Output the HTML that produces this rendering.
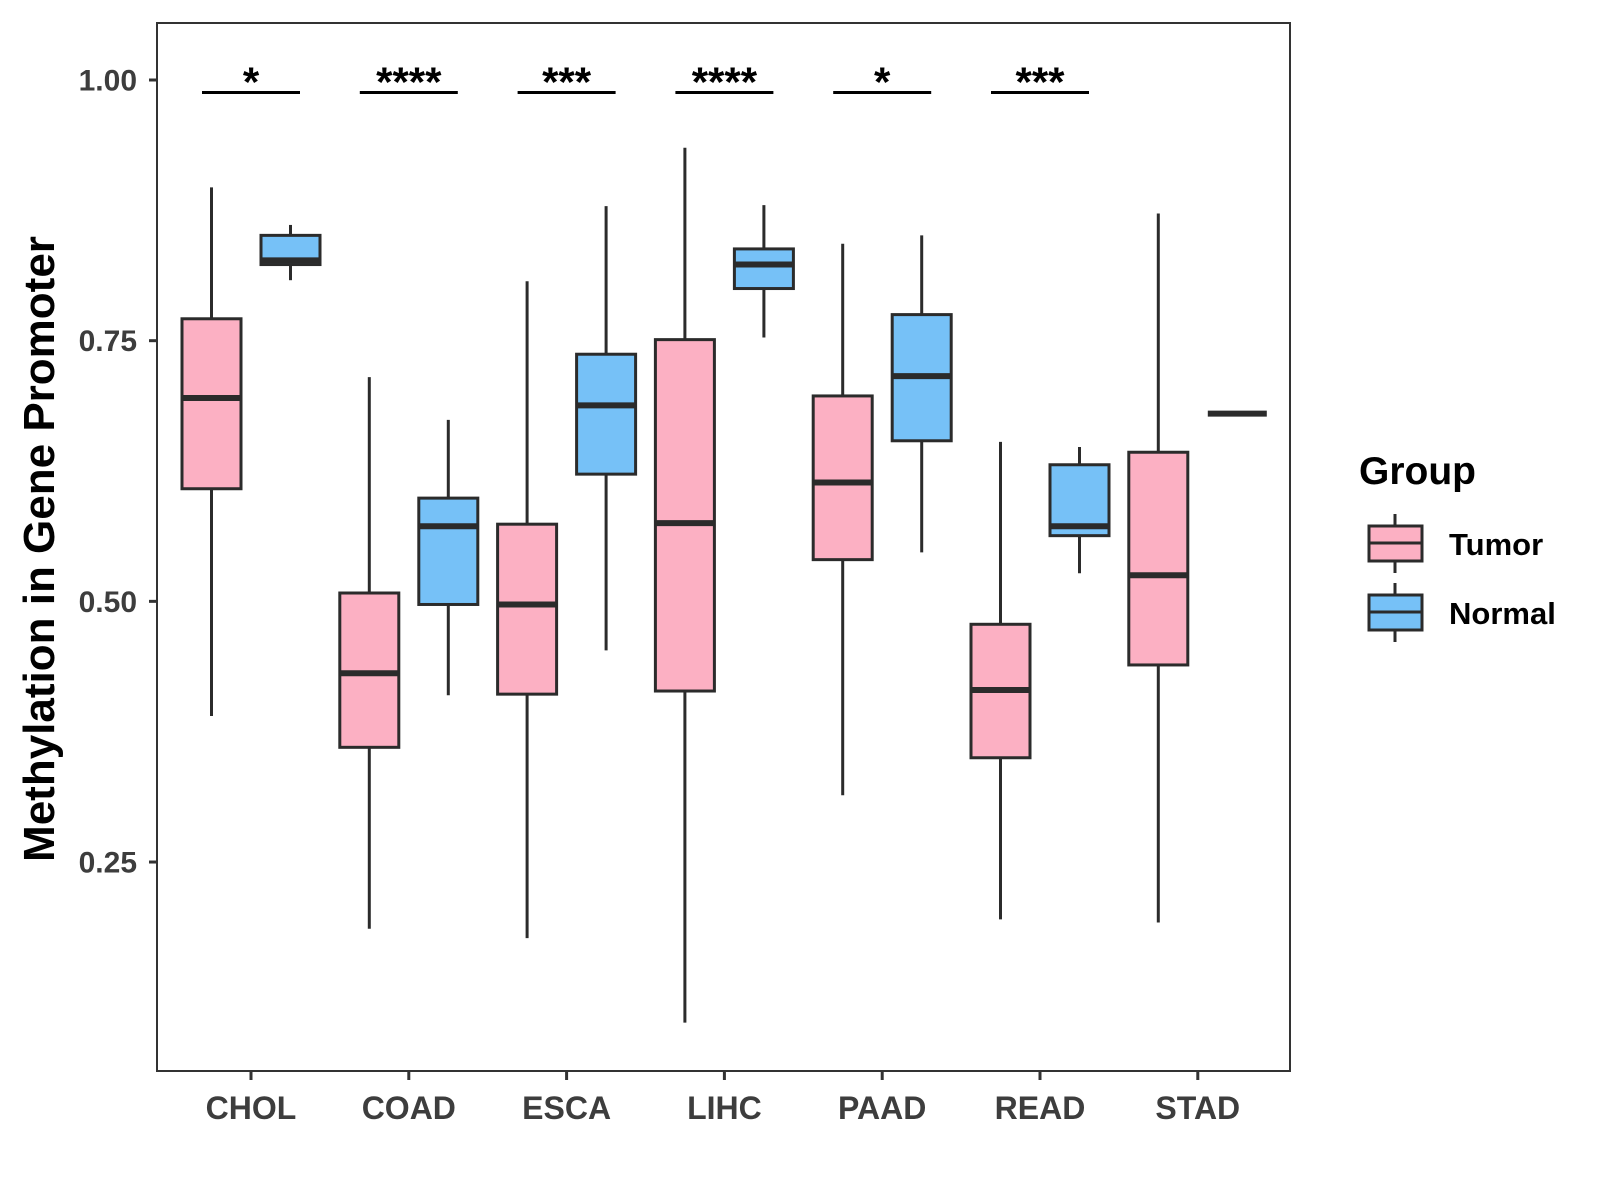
<!DOCTYPE html>
<html><head><meta charset="utf-8"><style>
body{margin:0;background:#fff}
svg{display:block;font-family:"Liberation Sans",Arial,sans-serif}
</style></head><body>
<svg id="chart" width="1600" height="1200" viewBox="0 0 1600 1200">
<rect x="0" y="0" width="1600" height="1200" fill="#fff"/>
<g id="plot"></g>
<rect x="157" y="23" width="1133" height="1048" fill="none" stroke="#333" stroke-width="2"/>
<text transform="translate(54,549) rotate(-90)" text-anchor="middle" font-size="44" font-weight="bold" fill="#000">Methylation in Gene Promoter</text>
<g>
<text x="1359" y="484" font-size="39" font-weight="bold" fill="#000">Group</text>
<g>
<line x1="1395" y1="514" x2="1395" y2="573" stroke="#2b2b2b" stroke-width="3"/>
<rect x="1369" y="526" width="53" height="35" fill="#FCB0C3" stroke="#2b2b2b" stroke-width="3"/>
<line x1="1369" y1="543" x2="1422" y2="543" stroke="#2b2b2b" stroke-width="3"/>
<text x="1449" y="555" font-size="31" font-weight="bold" fill="#000">Tumor</text>
</g>
<g>
<line x1="1395" y1="583" x2="1395" y2="642" stroke="#2b2b2b" stroke-width="3"/>
<rect x="1369" y="595" width="53" height="35" fill="#76C1F7" stroke="#2b2b2b" stroke-width="3"/>
<line x1="1369" y1="612" x2="1422" y2="612" stroke="#2b2b2b" stroke-width="3"/>
<text x="1449" y="624" font-size="31" font-weight="bold" fill="#000">Normal</text>
</g>
</g>
</svg>
<script>
const categories=["CHOL","COAD","ESCA","LIHC","PAAD","READ","STAD"];
// [low, q1, median, q3, high]
const tumorStats=[[0.390,0.608,0.695,0.771,0.897],[0.186,0.360,0.431,0.508,0.715],[0.177,0.411,0.497,0.574,0.807],[0.096,0.414,0.575,0.751,0.935],[0.314,0.540,0.614,0.697,0.843],[0.195,0.350,0.415,0.478,0.653],[0.192,0.439,0.525,0.643,0.872]];
const normalStats=[[0.808,0.823,0.827,0.851,0.861],[0.410,0.497,0.572,0.599,0.674],[0.453,0.622,0.688,0.737,0.879],[0.753,0.800,0.823,0.838,0.880],[0.547,0.654,0.716,0.775,0.851],[0.527,0.563,0.572,0.631,0.648],[0.680,0.680,0.680,0.680,0.680]];
const significance=["*","****","***","****","*","***",""];
const yTicks=[0.25,0.50,0.75,1.00];
const yTickLabels=["0.25","0.50","0.75","1.00"];
const sigLevel=0.988;

const NS="http://www.w3.org/2000/svg";
const svg=document.getElementById('chart');
const g=document.getElementById('plot');
const y=v=>80+(1-v)*1042.7;
const x=i=>251+i*157.8;
function el(tag,attrs,parent){const e=document.createElementNS(NS,tag);for(const k in attrs)e.setAttribute(k,attrs[k]);(parent||g).appendChild(e);return e;}
yTicks.forEach((t,i)=>{
  const l=el('line',{x1:149,x2:157,y1:y(t),y2:y(t),stroke:'#333','stroke-width':3});
  
  
  const tx=el('text',{x:137,y:y(t)+10.5,'text-anchor':'end','font-size':30,'font-weight':'bold',fill:'#3d3d3d'});
  tx.textContent=yTickLabels[i];
  
  
});
categories.forEach((c,i)=>{
  const l=el('line',{x1:x(i),x2:x(i),y1:1071,y2:1080,stroke:'#333','stroke-width':3});
  
  
  const tx=el('text',{x:x(i),y:1119,'text-anchor':'middle','font-size':32,'font-weight':'bold',fill:'#3d3d3d'});
  tx.textContent=c;
  
  
});
function box(cx,s,fill,name){
  const grp=el('g',{});
  
  
  const w=59;
  el('line',{x1:cx,x2:cx,y1:y(s[4]),y2:y(s[0]),stroke:'#2b2b2b','stroke-width':3},grp);
  el('rect',{x:cx-w/2,y:y(s[3]),width:w,height:Math.max(0,y(s[1])-y(s[3])),fill:fill,stroke:'#2b2b2b','stroke-width':3},grp);
  el('line',{x1:cx-w/2,x2:cx+w/2,y1:y(s[2]),y2:y(s[2]),stroke:'#2b2b2b','stroke-width':6},grp);
}
categories.forEach((c,i)=>{
  box(x(i)-39.5,tumorStats[i],'#FCB0C3','box-tumor-'+c.toLowerCase());
  box(x(i)+39.5,normalStats[i],'#76C1F7','box-normal-'+c.toLowerCase());
  if(significance[i]){
    const b=el('line',{x1:x(i)-49,x2:x(i)+49,y1:y(sigLevel),y2:y(sigLevel),stroke:'#000','stroke-width':3});
    
    
    const t=el('text',{x:x(i),y:y(sigLevel)+4,'text-anchor':'middle','font-size':42,'font-weight':'bold',fill:'#000'});
    t.textContent=significance[i];
    
    
  }
});
</script>
</body></html>
